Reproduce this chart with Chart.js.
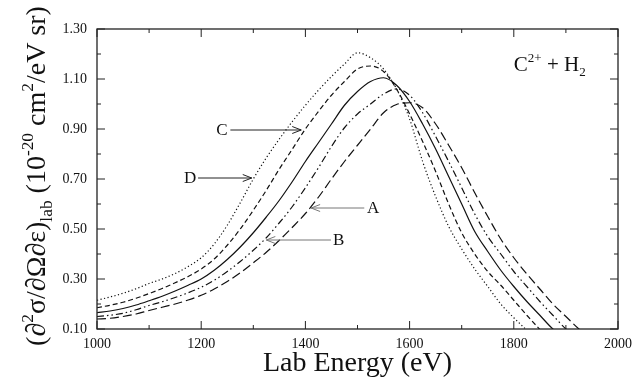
<!DOCTYPE html>
<html>
<head>
<meta charset="utf-8">
<script src="https://cdn.jsdelivr.net/npm/chart.js@4.4.1/dist/chart.umd.min.js"></script>
<style>
  body { margin: 0; background: #fff; }
  #wrap { width: 639px; height: 379px; }
</style>
</head>
<body>
<div id="wrap"><canvas id="myChart"></canvas></div>
<script>
// energies (eV), common grid for all five curves
var energy = [1000, 1025, 1050, 1075, 1100, 1125, 1150, 1175, 1200, 1225, 1250, 1275, 1300,
    1325, 1350, 1375, 1400, 1425, 1450, 1475, 1500, 1525, 1550, 1575, 1600, 1625, 1650,
    1675, 1700, 1725, 1750, 1775, 1800, 1825, 1850, 1875, 1900, 1925, 1950];

// cross sections, 10^-20 cm^2/eV sr
var curveD = [0.215, 0.228, 0.243, 0.261, 0.282, 0.300, 0.322, 0.350, 0.385, 0.44, 0.515, 0.605, 0.70,
    0.785, 0.86, 0.93, 0.995, 1.055, 1.11, 1.16, 1.205, 1.185, 1.14, 1.06, 0.94, 0.77, 0.63,
    0.51, 0.42, 0.34, 0.27, 0.2, 0.145, 0.095, null, null, null, null, null];
var curveC = [0.185, 0.195, 0.207, 0.223, 0.242, 0.262, 0.285, 0.31, 0.34, 0.38, 0.435, 0.50, 0.575,
    0.655, 0.74, 0.82, 0.9, 0.97, 1.035, 1.09, 1.14, 1.152, 1.13, 1.06, 0.96, 0.85, 0.73,
    0.6, 0.485, 0.4, 0.33, 0.275, 0.215, 0.155, 0.098, null, null, null, null];
var curveSolid = [0.165, 0.172, 0.182, 0.196, 0.213, 0.231, 0.252, 0.275, 0.3, 0.335, 0.378, 0.428, 0.485,
    0.548, 0.615, 0.69, 0.77, 0.845, 0.92, 0.995, 1.05, 1.09, 1.105, 1.075, 1.01, 0.92, 0.82,
    0.71, 0.6, 0.49, 0.41, 0.335, 0.27, 0.21, 0.155, 0.1, 0.06, null, null];
var curveB = [0.15, 0.155, 0.163, 0.177, 0.194, 0.209, 0.226, 0.245, 0.267, 0.295, 0.33, 0.37, 0.415,
    0.465, 0.525, 0.59, 0.665, 0.745, 0.83, 0.905, 0.96, 1.0, 1.04, 1.06, 1.035, 0.965, 0.87,
    0.77, 0.665, 0.56, 0.47, 0.4, 0.33, 0.27, 0.21, 0.155, 0.1, 0.06, null];
var curveA = [0.14, 0.143, 0.15, 0.16, 0.174, 0.187, 0.2, 0.216, 0.235, 0.26, 0.29, 0.325, 0.365,
    0.407, 0.455, 0.507, 0.562, 0.627, 0.7, 0.77, 0.835, 0.9, 0.965, 0.998, 1.005, 0.985, 0.92,
    0.835, 0.745, 0.645, 0.55, 0.46, 0.385, 0.32, 0.26, 0.2, 0.15, 0.1, 0.06];

var xTicks = [1000, 1200, 1400, 1600, 1800, 2000];
var yTicks = [0.10, 0.30, 0.50, 0.70, 0.90, 1.10, 1.30];

// arrow labels: letter at (x, y), arrow from "from" to "to" along y
var notes = [
    { label: 'C', x: 1240, y: 0.896, from: 1256, to: 1392, color: '#222' },
    { label: 'D', x: 1179, y: 0.704, from: 1194, to: 1297, color: '#222' },
    { label: 'A', x: 1530, y: 0.584, from: 1513, to: 1411, color: '#777' },
    { label: 'B', x: 1464, y: 0.456, from: 1449, to: 1325, color: '#777' }
];

var serif = "'Liberation Serif', 'Times New Roman', serif";

function pts(vals) {
    return energy.map(function (e, i) { return { x: e, y: vals[i] }; });
}

function line(vals, dash) {
    return {
        data: pts(vals),
        borderColor: '#111',
        borderWidth: 1.2,
        borderDash: dash,
        pointRadius: 0,
        fill: false,
        cubicInterpolationMode: 'monotone',
        spanGaps: false
    };
}

// draws text with super/subscripts; segs = [text, shift] (1 sup, -1 sub)
function richWidth(ctx, segs, size) {
    var w = 0;
    segs.forEach(function (s) {
        ctx.font = (s[1] ? size * 0.62 : size) + 'px ' + serif;
        w += ctx.measureText(s[0]).width;
    });
    return w;
}
function drawRich(ctx, segs, size, x, y) {
    segs.forEach(function (s) {
        ctx.font = (s[1] ? size * 0.62 : size) + 'px ' + serif;
        var dy = s[1] === 1 ? -size * 0.42 : (s[1] === -1 ? size * 0.25 : 0);
        ctx.fillText(s[0], x, y + dy);
        x += ctx.measureText(s[0]).width;
    });
}

var yTitle = [['(\u2202', 0], ['2', 1], ['\u03c3/\u2202\u03a9\u2202\u03b5)', 0], ['lab', -1],
    [' (10', 0], ['-20', 1], [' cm', 0], ['2', 1], ['/eV sr)', 0]];
var label = [['C', 0], ['2+', 1], [' + H', 0], ['2', -1]];

var decor = {
    id: 'decor',
    afterDraw: function (chart) {
        var ctx = chart.ctx, a = chart.chartArea, x = chart.scales.x, y = chart.scales.y;
        ctx.save();
        ctx.strokeStyle = '#222';
        ctx.lineWidth = 1.3;
        ctx.strokeRect(a.left, a.top, a.right - a.left, a.bottom - a.top);

        // inward ticks on all four sides
        ctx.lineWidth = 1;
        ctx.beginPath();
        for (var e = 1000; e <= 2000; e += 100) {
            var px = x.getPixelForValue(e);
            var len = e % 200 === 0 ? 8 : 4;
            ctx.moveTo(px, a.bottom); ctx.lineTo(px, a.bottom - len);
            ctx.moveTo(px, a.top); ctx.lineTo(px, a.top + len);
        }
        for (var i = 0; i <= 12; i++) {
            var py = y.getPixelForValue(0.1 + i * 0.1);
            var l2 = i % 2 === 0 ? 8 : 4;
            ctx.moveTo(a.left, py); ctx.lineTo(a.left + l2, py);
            ctx.moveTo(a.right, py); ctx.lineTo(a.right - l2, py);
        }
        ctx.stroke();

        ctx.fillStyle = '#111';
        ctx.textBaseline = 'alphabetic';
        // x title
        ctx.font = '28px ' + serif;
        ctx.textAlign = 'center';
        ctx.fillText('Lab Energy (eV)', (a.left + a.right) / 2, a.bottom + 42);

        // y title, rotated
        ctx.textAlign = 'left';
        ctx.save();
        ctx.translate(45, (a.top + a.bottom) / 2 - 3);
        ctx.rotate(-Math.PI / 2);
        var w = richWidth(ctx, yTitle, 28);
        drawRich(ctx, yTitle, 28, -w / 2, 0);
        ctx.restore();

        // reaction label
        drawRich(ctx, label, 21, x.getPixelForValue(1800), y.getPixelForValue(1.132));

        // arrow labels
        notes.forEach(function (n) {
            var ly = y.getPixelForValue(n.y);
            var x0 = x.getPixelForValue(n.from), x1 = x.getPixelForValue(n.to);
            var dir = x1 > x0 ? 1 : -1;
            ctx.strokeStyle = n.color;
            ctx.lineWidth = 1;
            ctx.beginPath();
            ctx.moveTo(x0, ly); ctx.lineTo(x1, ly);
            ctx.moveTo(x1 - dir * 9, ly - 3.5); ctx.lineTo(x1, ly); ctx.lineTo(x1 - dir * 9, ly + 3.5);
            ctx.stroke();
            ctx.fillStyle = '#111';
            ctx.font = '17px ' + serif;
            ctx.textAlign = 'center';
            ctx.textBaseline = 'middle';
            ctx.fillText(n.label, x.getPixelForValue(n.x), ly + 1);
        });
        ctx.restore();
    }
};

var ctx = document.getElementById('myChart').getContext('2d');
var myChart = new Chart(ctx, {
    type: 'line',
    data: {
        datasets: [
            line(curveD, [1.2, 2.4]),
            line(curveC, [5, 3]),
            line(curveSolid, []),
            line(curveB, [7, 3, 1.5, 3, 1.5, 3]),
            line(curveA, [9, 4])
        ]
    },
    options: {
        responsive: true,
        maintainAspectRatio: false,
        animation: false,
        layout: { padding: { top: 29, right: 16, left: 0, bottom: 0 } },
        plugins: { legend: { display: false }, tooltip: { enabled: false } },
        scales: {
            x: {
                type: 'linear', min: 1000, max: 2000,
                grid: { display: false, drawTicks: false },
                border: { display: false },
                ticks: {
                    font: { family: serif, size: 14 }, color: '#111', padding: 7, maxRotation: 0, autoSkip: false,
                    callback: function (v) { return String(v); }
                },
                afterBuildTicks: function (s) { s.ticks = xTicks.map(function (v) { return { value: v }; }); },
                afterFit: function (s) { s.height = 50; }
            },
            y: {
                type: 'linear', min: 0.1, max: 1.3,
                grid: { display: false, drawTicks: false },
                border: { display: false },
                ticks: {
                    font: { family: serif, size: 14 }, color: '#111', padding: 10,
                    callback: function (v) { return v.toFixed(2); }
                },
                afterBuildTicks: function (s) { s.ticks = yTicks.map(function (v) { return { value: v }; }); },
                afterFit: function (s) { s.width = 97; }
            }
        }
    },
    plugins: [decor]
});
</script>
</body>
</html>
